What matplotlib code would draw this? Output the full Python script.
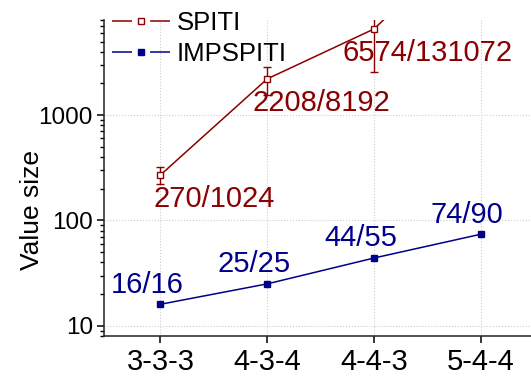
import matplotlib
matplotlib.use("Agg")
import matplotlib.pyplot as plt
from matplotlib.lines import Line2D
from matplotlib.ticker import LogLocator, NullFormatter, FixedLocator, FixedFormatter

plt.rcParams['font.family'] = ['Liberation Sans', 'DejaVu Sans']

categories = ["3-3-3", "4-3-4", "4-4-3", "5-4-4"]
spiti_values = [270, 2208, 6574, 60000]
spiti_errors = [50, 650, 4000, 0]
spiti_labels = ["270/1024", "2208/8192", "6574/131072"]
imp_values = [16, 25, 44, 74]
imp_labels = ["16/16", "25/25", "44/55", "74/90"]

red = '#8B0000'
blue = '#00008B'

fig = plt.figure(figsize=(5.31, 3.76), dpi=100)
ax = fig.add_axes([104/531, 40/376, 427/531, 316/376])

x = list(range(len(categories)))

ax.errorbar(x, spiti_values, yerr=spiti_errors, color=red, lw=1.1,
            marker='s', markersize=5, markerfacecolor='white',
            markeredgecolor=red, markeredgewidth=1.0,
            ecolor=red, elinewidth=1.0, capsize=3, capthick=1.0, zorder=3)
ax.plot(x, imp_values, color=blue, lw=1.1, marker='s', markersize=4.5,
        markerfacecolor=blue, markeredgecolor=blue, zorder=3)

for xi, v, t in zip(x, spiti_values, spiti_labels):
    ax.annotate(t, (xi, v), xytext=(38.9, -23.3), textcoords='offset points',
                ha='center', va='baseline', color=red, fontsize=21, zorder=4)
for xi, v, t in zip(x, imp_values, imp_labels):
    ax.annotate(t, (xi, v), xytext=(-9.7, 8.4), textcoords='offset points',
                ha='center', va='baseline', color=blue, fontsize=21, zorder=4)

ax.set_yscale('log')
ax.set_ylim(8, 8000)
ax.set_xlim(-0.528, 3.47)

ax.yaxis.set_major_locator(FixedLocator([10, 100, 1000]))
ax.yaxis.set_major_formatter(FixedFormatter(["10", "100", "1000"]))
ax.yaxis.set_minor_locator(LogLocator(base=10, subs=range(2, 10)))
ax.yaxis.set_minor_formatter(NullFormatter())

ax.set_xticks(x)
ax.set_xticklabels(categories, fontsize=21)
ax.tick_params(axis='y', which='major', labelsize=17.5, direction='out', length=5, width=1.1, pad=3)
ax.tick_params(axis='y', which='minor', direction='out', length=3, width=1.0)
ax.tick_params(axis='x', which='major', direction='out', length=5, width=1.1, pad=4)

ax.grid(True, which='major', axis='both', linestyle=':', color='#cccccc', lw=0.8)
ax.set_axisbelow(True)

for s in ['top', 'right']:
    ax.spines[s].set_visible(False)
for s in ['left', 'bottom']:
    ax.spines[s].set_linewidth(1.1)
    ax.spines[s].set_color('#222222')

ax.set_ylabel("Value size", fontsize=19)
ax.yaxis.set_label_coords(-0.1405, 0.399)

lw = 1.1
h1 = Line2D([], [], color=red, lw=lw, linestyle=(0, (14.4/lw, 13/lw)), marker='s',
            markersize=5, markerfacecolor='white', markeredgecolor=red, markeredgewidth=1.0)
h2 = Line2D([], [], color=blue, lw=lw, linestyle=(0, (14.4/lw, 13/lw)), marker='s',
            markersize=4.5, markerfacecolor=blue, markeredgecolor=blue)
fig.legend([h1, h2], ["SPITI", "IMPSPITI"], loc='upper left',
           bbox_to_anchor=(112/531, 1 - 11/376), bbox_transform=fig.transFigure,
           frameon=False, fontsize=18.5, borderpad=0, borderaxespad=0,
           handlelength=2.26, handletextpad=0.27, labelspacing=0.26, numpoints=1)

fig.savefig("out.png", dpi=100)
